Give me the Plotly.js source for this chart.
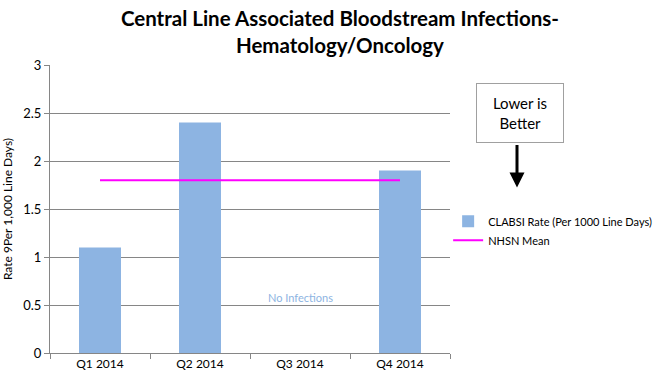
<!DOCTYPE html>
<html>
<head>
<meta charset="utf-8">
<script src="https://cdn.plot.ly/plotly-3.0.1.min.js"></script>
<style>html,body{margin:0;padding:0;background:#fff;}#chart{width:660px;height:388px;}</style>
</head>
<body>
<div id="chart"></div>
<script>
const categories = ["Q1 2014", "Q2 2014", "Q3 2014", "Q4 2014"];
const clabsiRate = [1.1, 2.4, 0, 1.9];
const nhsnMean = [1.8, 1.8, 1.8, 1.8];
const yTicks = [0, 0.5, 1, 1.5, 2, 2.5, 3];
const yTickLabels = ["0", "0.5", "1", "1.5", "2", "2.5", "3"];

const font = "Lato, 'Open Sans', sans-serif";
const axisGrey = "#868686";

const traces = [
  {
    type: "bar",
    name: "CLABSI Rate (Per 1000 Line Days)",
    x: categories,
    y: clabsiRate,
    marker: {color: "#8DB4E2"}
  },
  {
    type: "scatter",
    mode: "lines",
    name: "NHSN Mean",
    x: categories,
    y: nhsnMean,
    line: {color: "#FF00FF", width: 2}
  }
];

const layout = {
  width: 660,
  height: 388,
  paper_bgcolor: "#fff",
  plot_bgcolor: "#fff",
  margin: {l: 50, r: 210, t: 65, b: 35, autoexpand: false},
  font: {family: font, color: "#000"},
  bargap: 0.58,
  showlegend: true,
  title: {
    text: "<b>Central Line Associated Bloodstream Infections-<br>Hematology/Oncology</b>",
    font: {family: font, size: 20.5, color: "#000"},
    xref: "container", yref: "container",
    x: 0.515, xanchor: "center",
    y: 0.932, yanchor: "middle"
  },
  xaxis: {
    type: "category",
    showline: true, linecolor: axisGrey, linewidth: 1,
    ticks: "outside", tickson: "boundaries", ticklen: 5, tickcolor: axisGrey,
    tickfont: {family: font, size: 12, color: "#000"},
    showgrid: false, zeroline: false
  },
  yaxis: {
    range: [0, 3],
    tickvals: yTicks, ticktext: yTickLabels,
    showline: true, linecolor: axisGrey, linewidth: 1,
    ticks: "outside", ticklen: 5, tickcolor: axisGrey,
    tickfont: {family: font, size: 13, color: "#000"},
    showgrid: true, gridcolor: axisGrey, gridwidth: 1,
    zeroline: false,
    title: {text: "Rate 9Per 1,000 Line Days)", font: {family: font, size: 12, color: "#000"}, standoff: 8}
  },
  legend: {
    xref: "container", yref: "container",
    x: 0.679, xanchor: "left",
    y: 0.405, yanchor: "middle",
    font: {family: font, size: 11, color: "#000"},
    tracegroupgap: 4,
    itemwidth: 30,
    bgcolor: "rgba(0,0,0,0)"
  },
  annotations: [
    {
      xref: "paper", yref: "paper",
      x: 1.175, y: 0.833,
      xanchor: "center", yanchor: "middle",
      text: "Lower is<br>Better",
      showarrow: false,
      font: {family: font, size: 15, color: "#000"},
      bordercolor: "#A0A0A0", borderwidth: 1,
      width: 84, height: 56,
      bgcolor: "#fff"
    },
    {
      xref: "paper", yref: "paper",
      x: 1.1675, y: 0.575,
      ax: 0, ay: -44,
      text: "",
      showarrow: true,
      arrowhead: 2, arrowsize: 1, arrowwidth: 3, arrowcolor: "#000"
    },
    {
      xref: "x", yref: "y",
      x: "Q3 2014", y: 0.58,
      text: "No Infections",
      showarrow: false,
      font: {family: font, size: 11, color: "#8DB4E2"}
    }
  ]
};

Plotly.newPlot("chart", traces, layout, {displayModeBar: false, staticPlot: true});
</script>
</body>
</html>
